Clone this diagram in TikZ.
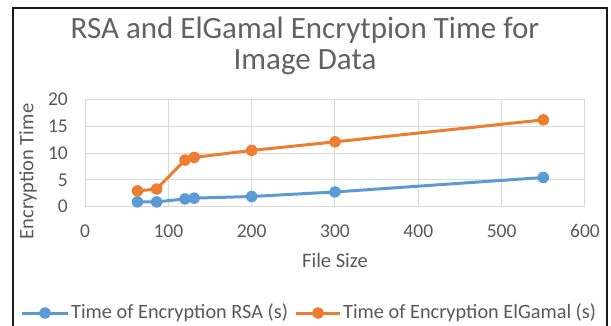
\documentclass[tikz,border=0pt]{standalone}
\usepackage{fontspec}
\setmainfont{Carlito}
\usetikzlibrary{calc}
\definecolor{rsablue}{HTML}{5B9BD5}
\definecolor{elgorange}{HTML}{ED7D31}
\definecolor{gridgray}{HTML}{D9D9D9}
\definecolor{labelgray}{HTML}{595959}
\definecolor{titlegray}{HTML}{626262}
\definecolor{framegray}{HTML}{1A1A1A}
\tikzset{
  gridline/.style={draw=gridgray, line width=1pt},
  ticklabel/.style={text=labelgray, inner sep=0pt, font=\fontsize{19.5}{19.5}\selectfont},
  axistitle/.style={text=labelgray, inner sep=0pt, font=\fontsize{20.5}{20.5}\selectfont},
  charttitle/.style={text=titlegray, inner sep=0pt, align=center, font=\fontsize{31}{31}\selectfont},
  legendtext/.style={text=labelgray, inner sep=0pt, anchor=west, font=\fontsize{20.3}{20.3}\selectfont},
  seriesline/.style={line width=3pt, line join=round, line cap=round},
  datamark/.style={circle, inner sep=0pt, minimum size=11.5pt},
  frameline/.style={draw=framegray, line width=2pt},
}
\begin{document}
\begin{tikzpicture}[x=1pt, y=1pt]
\useasboundingbox (0,0) rectangle (611,325);
\fill[white] (0,0) rectangle (611,325);

% outer frame (open at the bottom)
\draw[frameline] (12.5,-2) -- (12.5,317.5) -- (606.5,317.5) -- (606.5,-2);

% chart title
\node[charttitle, anchor=north] (title) at (305,308.5) {RSA and ElGamal Encrytpion Time for\\Image Data};

% plot area: data coordinates, x in file size, y in seconds
\begin{scope}[shift={(85,118.3)}, x=0.8333pt, y=5.36pt]
  \foreach \gx in {0,100,...,600} \draw[gridline] (\gx,0) -- (\gx,20);
  \foreach \gy in {0,5,...,20} \draw[gridline] (0,\gy) -- (600,\gy);

  % tick labels
  \foreach \gy in {0,5,10,15,20}
    \node[ticklabel, anchor=east] (ylab\gy) at ([xshift=-17pt]0,\gy) {\gy};
  \foreach \gx in {0,100,...,600}
    \node[ticklabel, anchor=base] (xlab\gx) at ([yshift=-30.5pt]\gx,0) {\gx};

  % RSA series
  \coordinate (r1) at (63,0.9);
  \coordinate (r2) at (86,0.9);
  \coordinate (r3) at (120,1.45);
  \coordinate (r4) at (131,1.6);
  \coordinate (r5) at (200,1.9);
  \coordinate (r6) at (300,2.75);
  \coordinate (r7) at (550,5.45);
  % ElGamal series
  \coordinate (e1) at (63,2.95);
  \coordinate (e2) at (86,3.3);
  \coordinate (e3) at (120,8.7);
  \coordinate (e4) at (131,9.2);
  \coordinate (e5) at (200,10.5);
  \coordinate (e6) at (300,12.1);
  \coordinate (e7) at (550,16.2);
\end{scope}

\draw[seriesline, rsablue] (r1) -- (r2) -- (r3) -- (r4) -- (r5) -- (r6) -- (r7);
\draw[seriesline, elgorange] (e1) -- (e2) -- (e3) -- (e4) -- (e5) -- (e6) -- (e7);
\foreach \i in {1,...,7} {
  \node[datamark, fill=rsablue] (rm\i) at (r\i) {};
  \node[datamark, fill=elgorange] (em\i) at (e\i) {};
}

% axis titles
\node[axistitle, rotate=90] (ytitle) at (28,153.5) {Encryption Time};
\node[axistitle] (xtitle) at (335,65) {File Size};

% legend
\coordinate (lbA) at (22,12);
\coordinate (lbB) at (68,12);
\draw[seriesline, rsablue, line cap=butt] (lbA) -- (lbB);
\node[datamark, fill=rsablue] (lbM) at ($(lbA)!0.5!(lbB)$) {};
\node[legendtext] (lbT) at (71,12) {Time of Encryption RSA (s)};
\coordinate (loA) at (296,12);
\coordinate (loB) at (340,12);
\draw[seriesline, elgorange, line cap=butt] (loA) -- (loB);
\node[datamark, fill=elgorange] (loM) at ($(loA)!0.5!(loB)$) {};
\node[legendtext] (loT) at (343,12) {Time of Encryption ElGamal (s)};
\end{tikzpicture}
\end{document}
